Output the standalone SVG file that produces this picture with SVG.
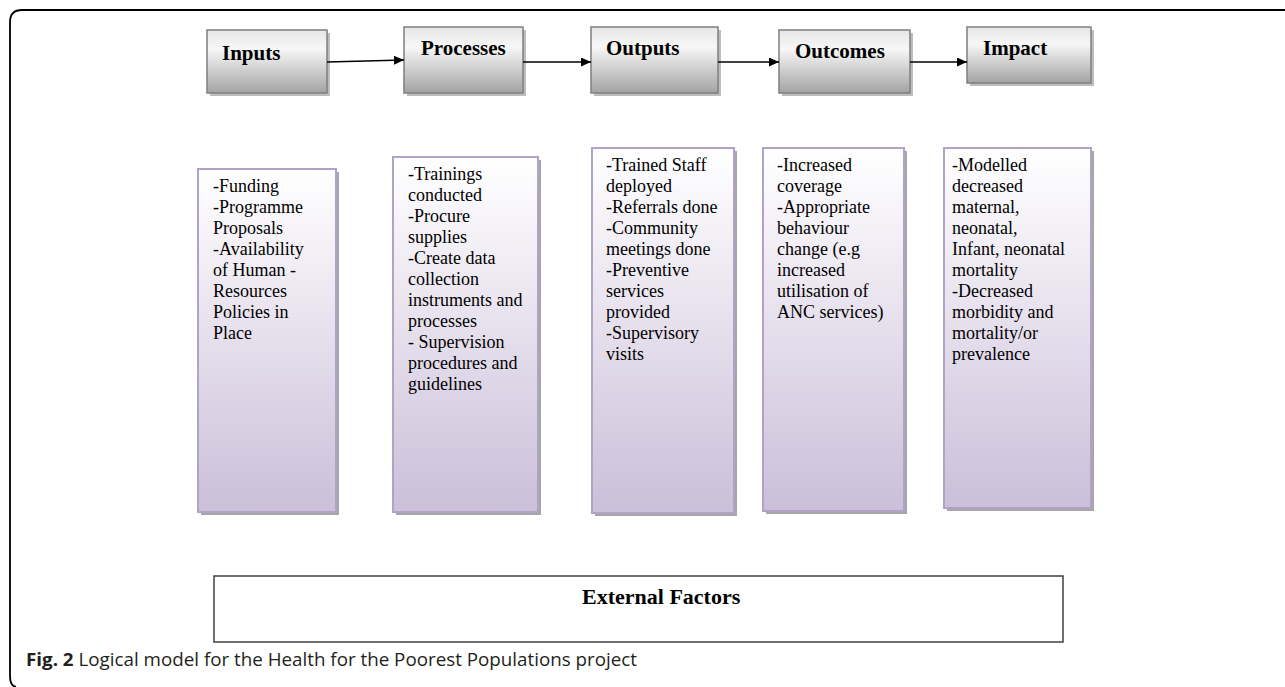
<svg xmlns="http://www.w3.org/2000/svg" width="1285" height="687" viewBox="0 0 1285 687">
<defs>
<linearGradient id="gTop" x1="0" y1="0" x2="0" y2="1">
<stop offset="0" stop-color="#e6e6e6"/>
<stop offset="0.3" stop-color="#f7f7f7"/>
<stop offset="1" stop-color="#a3a3a3"/>
</linearGradient>
<linearGradient id="gLow" x1="0" y1="0" x2="0" y2="1">
<stop offset="0" stop-color="#ffffff"/>
<stop offset="1" stop-color="#cbbfd9"/>
</linearGradient>
<marker id="arr" viewBox="0 0 10 10" refX="10" refY="5" markerWidth="10" markerHeight="9" markerUnits="userSpaceOnUse" orient="auto" preserveAspectRatio="none">
<path d="M0,0 L10,5 L0,10 Z" fill="#000"/>
</marker>
</defs>
<style>
.top{fill:url(#gTop);stroke:#7f7f7f;stroke-width:1.5}
.tsh{fill:#bdbdbd}
.low{fill:url(#gLow);stroke:#b2a2c8;stroke-width:2}
.lsh{fill:#a6a6a6}
.h{font-family:"Liberation Serif","Times New Roman",serif;font-weight:bold;font-size:21px;fill:#000}
.b{font-family:"Liberation Serif","Times New Roman",serif;font-size:18px;fill:#000}
.con{stroke:#000;stroke-width:1.5;fill:none;marker-end:url(#arr)}
.cap{font-family:"Open Sans",sans-serif;font-size:18.5px;fill:#231f20}
</style>
<rect width="1285" height="687" fill="#fff"/>
<path d="M1285,10 L22,10 Q10,10 10,22 L10,676 Q10,686 16,687" fill="none" stroke="#000" stroke-width="1.8"/>

<g id="inputs">
<rect class="tsh" x="210" y="33" width="120" height="63"/>
<rect class="top" x="207" y="30" width="120" height="63"/>
<text class="h" x="222" y="60">Inputs</text>
</g>
<g id="processes">
<rect class="tsh" x="407" y="30" width="119" height="66"/>
<rect class="top" x="404" y="27" width="119" height="66"/>
<text class="h" x="421" y="55">Processes</text>
</g>
<g id="outputs">
<rect class="tsh" x="594" y="30" width="127" height="66"/>
<rect class="top" x="591" y="27" width="127" height="66"/>
<text class="h" x="606" y="55">Outputs</text>
</g>
<g id="outcomes">
<rect class="tsh" x="782" y="33" width="131" height="63"/>
<rect class="top" x="779" y="30" width="131" height="63"/>
<text class="h" x="795" y="58">Outcomes</text>
</g>
<g id="impact">
<rect class="tsh" x="970" y="30" width="124" height="56"/>
<rect class="top" x="967" y="27" width="124" height="56"/>
<text class="h" x="983" y="55">Impact</text>
</g>

<g id="connectors">
<line class="con" x1="327" y1="62" x2="404" y2="60"/>
<line class="con" x1="523" y1="62" x2="591" y2="62"/>
<line class="con" x1="718" y1="62" x2="779" y2="62"/>
<line class="con" x1="910" y1="62" x2="967" y2="62"/>
</g>

<g id="inputs-detail">
<rect class="lsh" x="201" y="172" width="138" height="343"/>
<rect class="low" x="198" y="169" width="138" height="343"/>
<text class="b" x="213" y="192">-Funding</text>
<text class="b" x="213" y="213">-Programme</text>
<text class="b" x="213" y="234">Proposals</text>
<text class="b" x="213" y="255">-Availability</text>
<text class="b" x="213" y="276">of Human -</text>
<text class="b" x="213" y="297">Resources</text>
<text class="b" x="213" y="318">Policies in</text>
<text class="b" x="213" y="339">Place</text>
</g>
<g id="processes-detail">
<rect class="lsh" x="396" y="160" width="145" height="355"/>
<rect class="low" x="393" y="157" width="145" height="355"/>
<text class="b" x="408" y="180">-Trainings</text>
<text class="b" x="408" y="201">conducted</text>
<text class="b" x="408" y="222">-Procure</text>
<text class="b" x="408" y="243">supplies</text>
<text class="b" x="408" y="264">-Create data</text>
<text class="b" x="408" y="285">collection</text>
<text class="b" x="408" y="306">instruments and</text>
<text class="b" x="408" y="327">processes</text>
<text class="b" x="408" y="348">- Supervision</text>
<text class="b" x="408" y="369">procedures and</text>
<text class="b" x="408" y="390">guidelines</text>
</g>
<g id="outputs-detail">
<rect class="lsh" x="595" y="151" width="142" height="365"/>
<rect class="low" x="592" y="148" width="142" height="365"/>
<text class="b" x="606" y="171">-Trained Staff</text>
<text class="b" x="606" y="192">deployed</text>
<text class="b" x="606" y="213">-Referrals done</text>
<text class="b" x="606" y="234">-Community</text>
<text class="b" x="606" y="255">meetings done</text>
<text class="b" x="606" y="276">-Preventive</text>
<text class="b" x="606" y="297">services</text>
<text class="b" x="606" y="318">provided</text>
<text class="b" x="606" y="339">-Supervisory</text>
<text class="b" x="606" y="360">visits</text>
</g>
<g id="outcomes-detail">
<rect class="lsh" x="766" y="151" width="141" height="363"/>
<rect class="low" x="763" y="148" width="141" height="363"/>
<text class="b" x="777" y="171">-Increased</text>
<text class="b" x="777" y="192">coverage</text>
<text class="b" x="777" y="213">-Appropriate</text>
<text class="b" x="777" y="234">behaviour</text>
<text class="b" x="777" y="255">change (e.g</text>
<text class="b" x="777" y="276">increased</text>
<text class="b" x="777" y="297">utilisation of</text>
<text class="b" x="777" y="318">ANC services)</text>
</g>
<g id="impact-detail">
<rect class="lsh" x="947" y="151" width="147" height="360"/>
<rect class="low" x="944" y="148" width="147" height="360"/>
<text class="b" x="952" y="171">-Modelled</text>
<text class="b" x="952" y="192">decreased</text>
<text class="b" x="952" y="213">maternal,</text>
<text class="b" x="952" y="234">neonatal,</text>
<text class="b" x="952" y="255">Infant, neonatal</text>
<text class="b" x="952" y="276">mortality</text>
<text class="b" x="952" y="297">-Decreased</text>
<text class="b" x="952" y="318">morbidity and</text>
<text class="b" x="952" y="339">mortality/or</text>
<text class="b" x="952" y="360">prevalence</text>
</g>

<g id="external">
<rect x="214" y="576" width="849" height="66" fill="#fff" stroke="#404040" stroke-width="1.5"/>
<text class="h" x="582" y="604" style="font-size:22px">External Factors</text>
</g>

<text class="cap" x="26" y="666" textLength="611" lengthAdjust="spacingAndGlyphs"><tspan font-weight="bold">Fig. 2</tspan> Logical model for the Health for the Poorest Populations project</text>
</svg>
